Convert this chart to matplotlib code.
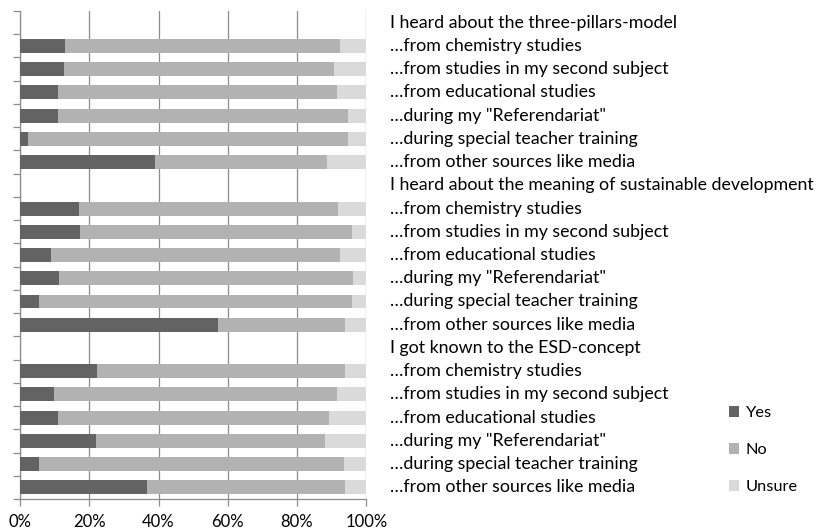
import numpy as np
import matplotlib
matplotlib.use("Agg")
import matplotlib.pyplot as plt
import matplotlib.transforms as mtransforms
from matplotlib.patches import Patch

plt.rcParams["font.family"] = ["Lato", "DejaVu Sans"]

labels = [
    "I heard about the three-pillars-model",
    "\u2026from chemistry studies",
    "\u2026from studies in my second subject",
    "\u2026from educational studies",
    "\u2026during my \"Referendariat\"",
    "\u2026during special teacher training",
    "\u2026from other sources like media",
    "I heard about the meaning of sustainable development",
    "\u2026from chemistry studies",
    "\u2026from studies in my second subject",
    "\u2026from educational studies",
    "\u2026during my \"Referendariat\"",
    "\u2026during special teacher training",
    "\u2026from other sources like media",
    "I got known to the ESD-concept",
    "\u2026from chemistry studies",
    "\u2026from studies in my second subject",
    "\u2026from educational studies",
    "\u2026during my \"Referendariat\"",
    "\u2026during special teacher training",
    "\u2026from other sources like media",
]

# percentages per row; header rows have no bar (nan)
yes = [np.nan, 13.1, 12.8, 11.0, 11.0, 2.2, 39.1,
       np.nan, 17.0, 17.3, 8.9, 11.3, 5.5, 57.3,
       np.nan, 22.3, 9.9, 11.0, 22.0, 5.5, 36.7]
no = [np.nan, 79.3, 77.9, 80.4, 83.6, 92.4, 49.5,
      np.nan, 74.7, 78.5, 83.5, 84.8, 90.3, 36.6,
      np.nan, 71.6, 81.6, 78.3, 66.1, 88.1, 57.2]
unsure = [np.nan, 7.6, 9.3, 8.6, 5.4, 5.4, 11.4,
          np.nan, 8.3, 4.2, 7.6, 3.9, 4.2, 6.1,
          np.nan, 6.1, 8.5, 10.7, 11.9, 6.4, 6.1]

series = ["Yes", "No", "Unsure"]
colors = ["#636363", "#b2b2b2", "#dadada"]

fig = plt.figure(figsize=(8.18, 5.32), dpi=100)
ax = fig.add_axes([0.0245, 0.062, 0.4233, 0.9173])

rows = np.arange(len(labels))
left = np.zeros(len(labels))
for vals, c in zip([yes, no, unsure], colors):
    v = np.nan_to_num(np.array(vals))
    ax.barh(rows, v, left=left, height=0.6, color=c, zorder=3)
    left += v

ax.set_xlim(0, 100)
ax.set_ylim(len(labels) - 0.5, -0.5)
ax.set_xticks(np.arange(0, 101, 20))
ax.set_xticklabels([f"{t}%" for t in range(0, 101, 20)], fontsize=12)
ax.set_yticks(np.arange(-0.5, len(labels), 1))
ax.set_yticklabels([])
ax.grid(axis="x", color="#8c8c8c", linewidth=0.9, zorder=0)
ax.tick_params(axis="both", color="#8c8c8c", length=5, width=0.9)
ax.tick_params(axis="x", pad=6)
for s in ["top", "right"]:
    ax.spines[s].set_visible(False)
for s in ["left", "bottom"]:
    ax.spines[s].set_color("#8c8c8c")
    ax.spines[s].set_linewidth(0.9)

trans = mtransforms.blended_transform_factory(fig.transFigure, ax.transData)
for i, lab in enumerate(labels):
    ax.text(390 / 818, i, lab, transform=trans, ha="left", va="center",
            fontsize=12.8, clip_on=False)

handles = [Patch(facecolor=c, edgecolor="none", label=s) for s, c in zip(series, colors)]
fig.legend(handles=handles, loc="center left", bbox_to_anchor=(714 / 818, 1 - 450 / 532),
           frameon=False, fontsize=11.8, handlelength=0.65, handleheight=0.65,
           handletextpad=0.4, labelspacing=1.4)

fig.savefig("out.png", dpi=100)
